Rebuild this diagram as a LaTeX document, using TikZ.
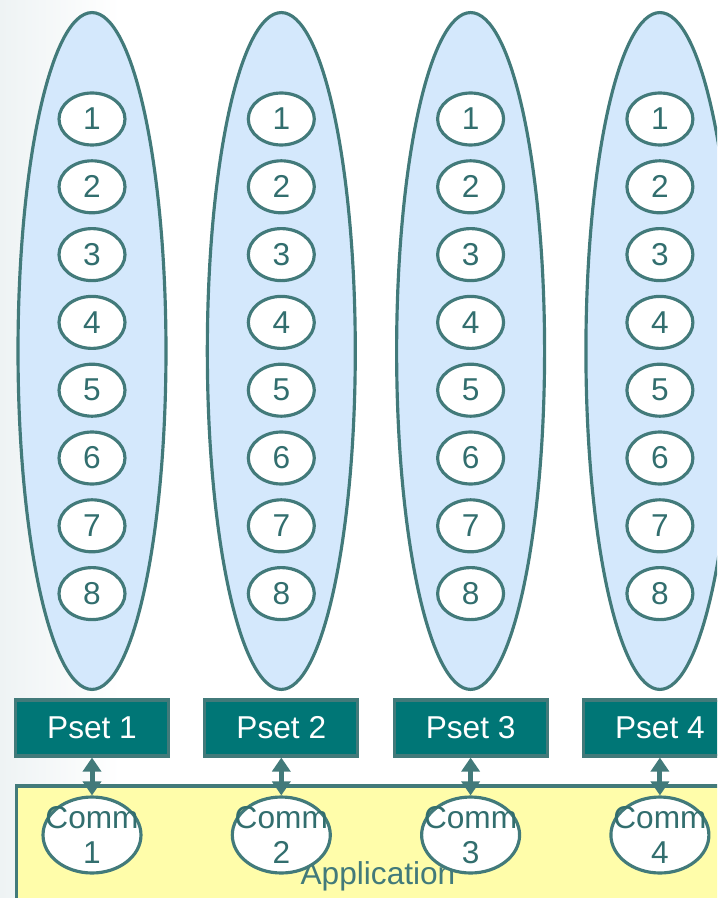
\documentclass[tikz,border=0pt]{standalone}
\usepackage{fontspec}
\setmainfont{Liberation Sans}
\usetikzlibrary{shapes.geometric, arrows.meta, positioning}
\definecolor{cTeal}{RGB}{66,122,122}
\definecolor{cText}{RGB}{50,110,110}
\definecolor{cDarkTeal}{RGB}{0,118,118}
\definecolor{cSky}{RGB}{212,232,252}
\definecolor{cCream}{RGB}{255,253,170}
\definecolor{cShade}{RGB}{238,243,244}
\tikzset{
  basefont/.style={font=\fontsize{18}{19.5}\selectfont},
  poolnode/.style={ellipse, draw=cTeal, line width=1.8pt, fill=cSky,
                   minimum width=2.96cm, minimum height=13.54cm},
  procnode/.style={ellipse, draw=cTeal, line width=1.8pt, fill=white,
                   minimum width=1.32cm, minimum height=1.04cm,
                   inner sep=0pt, basefont, text=cText},
  psetbox/.style={rectangle, draw=cTeal, line width=1.8pt, fill=cDarkTeal,
                  minimum width=3.06cm, minimum height=1.12cm,
                  basefont, text=white},
  appbox/.style={rectangle, draw=cTeal, line width=1.8pt, fill=cCream,
                 minimum width=14.46cm, minimum height=3.6cm,
                 basefont, text=cTeal},
  commnode/.style={ellipse, draw=cTeal, line width=1.8pt, fill=white,
                   minimum width=1.96cm, minimum height=1.52cm, inner sep=0pt},
  commtext/.style={basefont, text=cText, align=center},
  linkarrow/.style={{Triangle[width=0.36cm,length=0.28cm]}-{Triangle[width=0.36cm,length=0.28cm]},
                    draw=cTeal, line width=0.1cm}
}

\begin{document}
\begin{tikzpicture}[x=0.02cm, y=-0.02cm]
  \useasboundingbox (0,0) rectangle (717,898);
  \clip (0,0) rectangle (717,898);
  \fill[left color=cShade, right color=white] (0,0) rectangle (120,898);

  % processor pools
  \foreach \c in {1,...,4}{
    \pgfmathsetmacro\cx{92+189.3*(\c-1)}
    \node[poolnode] (pool\c) at (\cx,351) {};
    \foreach \k in {1,...,8}{
      \pgfmathsetmacro\ky{119+67.8*(\k-1)}
      \node[procnode] (p\c-\k) at (\cx,\ky) {\k};
    }
  }

  % application layer
  \node[appbox] (app) at (378,876) {Application};

  % psets and communicators
  \foreach \c in {1,...,4}{
    \pgfmathsetmacro\cx{92+189.3*(\c-1)}
    \node[psetbox] (pset\c) at (\cx,728) {Pset \c};
    \node[commnode] (comm\c) at (\cx,835) {};
    \node[commtext] (commlbl\c) at (comm\c.center) {Comm\\\c};
    \draw[linkarrow] (pset\c.south) -- (comm\c.north);
  }
\end{tikzpicture}
\end{document}
